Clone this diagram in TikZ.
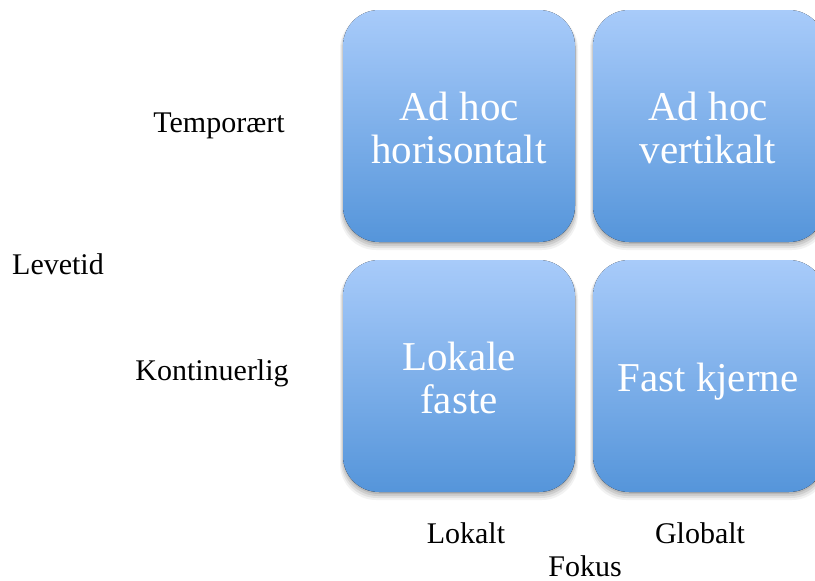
\documentclass[tikz,border=0pt]{standalone}
\usepackage{fontspec}
\setmainfont{Liberation Serif}
\newfontfamily\boxfont{Liberation Serif}
\begin{document}
\begin{tikzpicture}[x=1pt,y=-1pt,
  cellbox/.style={rounded corners=36pt, top color=boxtop, bottom color=boxbot, draw=none},
  celltext/.style={text=white, font=\boxfont\fontsize{41}{43}\selectfont, align=center},
  axislabel/.style={font=\fontsize{30}{33}\selectfont, text=black, inner sep=0pt, anchor=base}]
\definecolor{boxtop}{HTML}{A8CBFA}
\definecolor{boxbot}{HTML}{5595DA}
\useasboundingbox (0,0) rectangle (815,581);
\clip (0,0) rectangle (815,581);

% soft drop shadows under the four cells
\foreach \x/\y in {343/10, 593/10, 343/260, 593/260}{
  \foreach \s/\o in {6/0.05, 4/0.07, 2/0.09, 0/0.1}{
    \fill[black, opacity=\o, rounded corners=36pt]
      (\x-\s*0.5,\y+3) rectangle (\x+232+\s*0.5,\y+232+2+\s);
  }
}

% the four cells
\fill[cellbox] (343,10)  rectangle (575,242);
\fill[cellbox] (593,10)  rectangle (825,242);
\fill[cellbox] (343,260) rectangle (575,492);
\fill[cellbox] (593,260) rectangle (825,492);

\node[celltext] (ahh) at (459,128) {Ad hoc\\horisontalt};
\node[celltext] (ahv) at (708,128) {Ad hoc\\vertikalt};
\node[celltext] (lf)  at (459,378) {Lokale\\faste};
\node[celltext] (fk)  at (708,382) {Fast kjerne};

% axis labels
\node[axislabel] (temp) at (219,132) {Temporært};
\node[axislabel] (lev)  at (58,274)  {Levetid};
\node[axislabel] (kont) at (212,380) {Kontinuerlig};
\node[axislabel] (lok)  at (466,543) {Lokalt};
\node[axislabel] (glob) at (700,543) {Globalt};
\node[axislabel] (fok)  at (585,576) {Fokus};
\end{tikzpicture}
\end{document}
